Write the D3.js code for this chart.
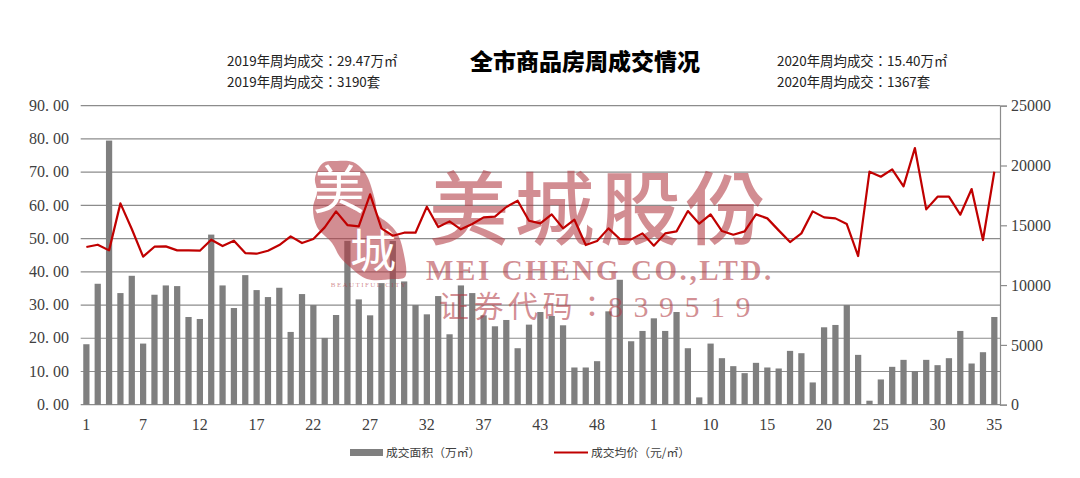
<!DOCTYPE html>
<html><head><meta charset="utf-8">
<script src="https://cdnjs.cloudflare.com/ajax/libs/d3/7.8.5/d3.min.js"></script>
<style>
html,body{margin:0;padding:0;background:#fff}
svg{display:block}
text{fill:#404040}
</style></head><body>
<svg id="c" width="1080" height="478"></svg>
<script>
const categories=["1","2","3","4","5","7","8","9","10","11","12","13","14","15","16","17","18","19","20","21","22","23","24","25","26","27","28","29","30","31","32","33","34","35","36","37","38","39","40","41","43","44","45","46","47","48","49","50","51","52","1","2","7","8","9","10","11","12","13","14","15","16","17","18","19","20","21","22","23","24","25","26","27","28","29","30","31","32","33","34","35"];
const areaValues=[18.2,36.4,79.5,33.6,38.8,18.4,33.1,35.9,35.7,26.4,25.8,51.2,35.9,29.1,39.0,34.5,32.4,35.2,21.9,33.3,30.0,20.1,27.0,49.3,31.7,26.9,36.6,49.3,37.1,30.0,27.2,32.7,21.2,35.9,33.6,26.9,23.6,25.5,17.0,24.1,27.9,26.7,23.9,11.2,11.2,13.1,28.1,37.6,19.1,22.2,26.0,22.2,27.9,17.0,2.2,18.4,14.0,11.6,9.5,12.6,11.2,10.9,16.2,15.5,6.7,23.3,24.0,30.0,15.0,1.2,7.6,11.4,13.5,10.1,13.5,11.9,14.0,22.2,12.4,15.8,26.4];
const priceValues=[13182,13377,12904,16833,14690,12375,13210,13238,12904,12904,12876,13796,13266,13712,12680,12625,12876,13350,14074,13517,13851,14827,16165,15022,14910,17586,14743,14130,14381,14381,16555,14855,15329,14660,15106,15663,15719,16527,17056,15384,15161,15914,14743,15468,13350,13684,14743,13851,13824,14325,13294,14325,14492,16192,15133,15914,14520,14214,14492,15914,15579,14576,13600,14325,16165,15663,15579,15106,12430,19481,19063,19676,18255,21460,16332,17391,17391,15886,18032,13768,19481];
const leftTicks=[0,10,20,30,40,50,60,70,80,90];
const rightTicks=[0,5000,10000,15000,20000,25000];
const title="全市商品房周成交情况";
const notesLeft=["2019年周均成交：29.47万㎡","2019年周均成交：3190套"];
const notesRight=["2020年周均成交：15.40万㎡","2020年周均成交：1367套"];
const legendLabels=["成交面积（万㎡）","成交均价（元/㎡）"];

const CJK='"Noto Sans CJK TC","Noto Sans CJK SC",sans-serif';
const SC='"Noto Sans CJK SC","Noto Sans",sans-serif';
const SERIF='"Liberation Serif","DejaVu Serif",serif';
const GRID='#8c8c8c',BAR='#7f7f7f',RED='#c00000',MARK='#b23a44';
const L=80.7,R=1000,T=105.7,B=404.7;
const svg=d3.select('#c');
const x=d3.scaleBand().domain(d3.range(categories.length)).range([L,R]).paddingInner(0.45).paddingOuter(0.225);
const yL=d3.scaleLinear().domain([0,90]).range([B,T]);
const yR=d3.scaleLinear().domain([0,25000]).range([B,T]);
const cx=i=>x(i)+x.bandwidth()/2;

svg.append('g').selectAll('line').data(leftTicks).join('line')
 .attr('x1',L).attr('x2',R).attr('y1',d=>yL(d)).attr('y2',d=>yL(d))
 .attr('stroke',GRID).attr('stroke-width',1.2);

svg.append('g').selectAll('rect').data(areaValues).join('rect')
 .attr('x',(d,i)=>x(i)).attr('width',x.bandwidth())
 .attr('y',d=>yL(d)).attr('height',d=>B-yL(d)).attr('fill',BAR);

svg.append('g').selectAll('text').data(leftTicks).join('text')
 .attr('x',69).attr('y',d=>yL(d)+5.2).attr('text-anchor','end')
 .style('font',`16px ${SERIF}`).text(d=>d3.format('.2f')(d).replace('.','. '));

const ax=d3.axisRight(yR).tickValues(rightTicks).tickSize(7).tickFormat(d=>d);
const gr=svg.append('g').attr('transform',`translate(${R},0)`).call(ax);
gr.select('.domain').attr('stroke',GRID).attr('stroke-width',1.2);
gr.selectAll('line').attr('stroke',GRID).attr('stroke-width',1.2);
gr.selectAll('text').attr('x',11).style('font',`16px ${SERIF}`).style('fill','#404040');

svg.append('g').selectAll('text').data(d3.range(0,categories.length,5)).join('text')
 .attr('x',d=>cx(d)).attr('y',430).attr('text-anchor','middle')
 .style('font',`16px ${SERIF}`).text(d=>categories[d]);

// watermark
const wm=svg.append('g').attr('fill',MARK).attr('fill-opacity',.58);
const sealPts=[[323,163],[337,161],[353,162],[363,170],[368,178],[375,200],[378,215],[388,223],[397,233],[403,250],[405,277],[393,279],[367,279],[350,267],[340,257],[332,243],[317,227],[313,208],[317,192],[315,178]];
wm.append('path').attr('d',d3.line().curve(d3.curveCatmullRomClosed)(sealPts));
wm.append('text').attr('x',339).attr('y',209).attr('text-anchor','middle').style('font',`400 52px ${CJK}`).style('fill','#fff').attr('fill-opacity',1).text('美');
wm.append('text').attr('x',373).attr('y',267).attr('text-anchor','middle').style('font',`400 46px ${CJK}`).style('fill','#fff').attr('fill-opacity',1).text('城');
wm.append('text').attr('x',369).attr('y',287).attr('text-anchor','middle').style('font',`7px ${SERIF}`).style('fill',MARK).style('letter-spacing','1.4px').text('BEAUTIFUL CITY');
wm.append('text').attr('x',600).attr('y',238).attr('text-anchor','middle').style('font',`500 80px ${CJK}`).style('fill',MARK).style('letter-spacing','5.5px').text('美城股份');
wm.append('text').attr('x',600).attr('y',280).attr('text-anchor','middle').style('font',`700 29px ${SERIF}`).style('fill',MARK).style('letter-spacing','2.6px').text('MEI CHENG CO.,LTD.');
wm.append('text').attr('x',439).attr('y',317).style('font',`400 30px ${CJK}`).style('fill',MARK).style('letter-spacing','4.5px').text('证券代码：');
wm.append('text').attr('x',608).attr('y',317).style('font',`400 30px ${SERIF}`).style('fill',MARK).style('letter-spacing','10.5px').text('839519');

svg.append('path').datum(priceValues)
 .attr('d',d3.line().x((d,i)=>cx(i)).y(d=>yR(d)))
 .attr('fill','none').attr('stroke',RED).attr('stroke-width',2.2).attr('stroke-linejoin','round');

// title & notes
svg.append('text').attr('x',585).attr('y',70).attr('text-anchor','middle').style('font',`900 23px ${SC}`).style('fill','#000').text(title);
notesLeft.forEach((t,i)=>svg.append('text').attr('x',227).attr('y',[66,87][i]).style('font',`13.4px ${CJK}`).style('fill','#222').text(t));
notesRight.forEach((t,i)=>svg.append('text').attr('x',777).attr('y',[66,87][i]).style('font',`13.4px ${CJK}`).style('fill','#222').text(t));

// legend
svg.append('rect').attr('x',350).attr('y',449).attr('width',33).attr('height',7).attr('fill',BAR);
svg.append('line').attr('x1',554).attr('x2',588).attr('y1',452.5).attr('y2',452.5).attr('stroke',RED).attr('stroke-width',2.2);
svg.append('text').attr('x',386).attr('y',456.5).style('font',`11.8px ${CJK}`).text(legendLabels[0]);
svg.append('text').attr('x',591).attr('y',456.5).style('font',`11.8px ${CJK}`).text(legendLabels[1]);
</script></body></html>
